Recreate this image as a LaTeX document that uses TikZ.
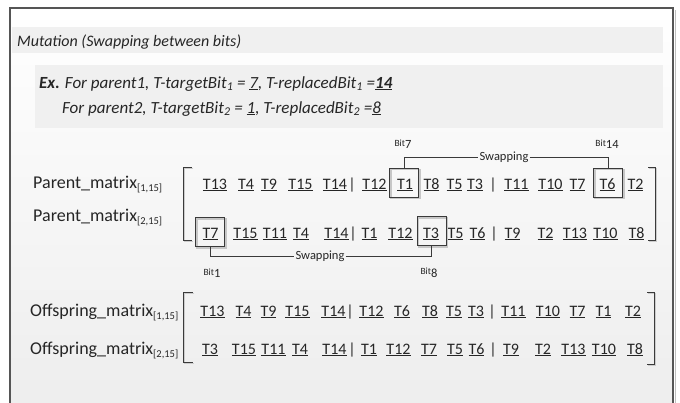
\documentclass[tikz,border=0pt]{standalone}
\usepackage{fontspec}
\setmainfont{Carlito}
\definecolor{ink}{HTML}{262626}
\definecolor{band}{HTML}{F0F0F0}
\definecolor{linec}{HTML}{3A3A3A}
\definecolor{framec}{HTML}{555555}
\tikzset{
  tok/.style={inner sep=0pt, anchor=base, text=ink, font=\fontsize{16}{16}\selectfont},
  lbl/.style={inner sep=0pt, anchor=base west, text=ink, font=\fontsize{18}{18}\selectfont},
  boxed/.style={draw=linec, line width=1pt, inner sep=0pt, minimum width=29pt, minimum height=29pt,
    preaction={draw=black!22, line width=1.4pt, transform canvas={shift={(1.3pt,-1.3pt)}}}},
  conn/.style={draw=linec, line width=0.9pt},
  brk/.style={draw=linec, line width=1pt,
    preaction={draw=black!20, line width=1.4pt, transform canvas={shift={(1.3pt,-1.3pt)}}}},
  swp/.style={inner sep=1pt, text=ink, font=\fontsize{12.5}{12.5}\selectfont},
  bitl/.style={inner sep=0pt, text=ink},
  extxt/.style={inner sep=0pt, anchor=base west, text=ink, font=\fontsize{17}{17}\selectfont\itshape},
}
\newcommand{\bitlab}[1]{{\fontsize{9.5}{9.5}\selectfont Bit}\raisebox{-2.5pt}{\fontsize{12.5}{12.5}\selectfont #1}}
\newcommand{\msub}[1]{\raisebox{-3pt}{\fontsize{10.5}{10.5}\selectfont #1}}
\begin{document}
\begin{tikzpicture}[x=1pt,y=-1pt]
\useasboundingbox (0,0) rectangle (680,402);
% background and frame
\shade[top color=white, bottom color=black!7] (10,8) rectangle (673,410);
\draw[draw=black!25, line width=1.2pt] (675.5,10) -- (675.5,410);
\draw[draw=framec, line width=1.3pt] (10,410) -- (10,8) -- (673,8) -- (673,410);
% title band
\fill[band] (12,27) rectangle (663,53);
\node[inner sep=0pt, anchor=base west, text=ink, font=\fontsize{16}{16}\selectfont\itshape] (title) at (17,46) {Mutation (Swapping between bits)};
% example box
\fill[band] (35,65) rectangle (663,128);
\node[extxt] (ex1) at (39,88) {{\bfseries Ex.} For parent1, T-targetBit\textsubscript{1} = \underline{7}, T-replacedBit\textsubscript{1} =\underline{\bfseries 14}};
\node[extxt] (ex2) at (62,113) {For parent2, T-targetBit\textsubscript{2} = \underline{1}, T-replacedBit\textsubscript{2} =\underline{8}};
% labels
\node[lbl] (lp1) at (33,188) {Parent\_matrix\msub{[1,15]}};
\node[lbl] (lp2) at (33,221) {Parent\_matrix\msub{[2,15]}};
\node[lbl] (lo1) at (30,316) {Offspring\_matrix\msub{[1,15]}};
\node[lbl] (lo2) at (30,354) {Offspring\_matrix\msub{[2,15]}};
% parent row 1
\foreach \nm/\x/\t in {pa1/215/T13, pa2/246/T4, pa3/269/T9, pa4/300.5/T15, pa5/335/T14,
  pa6/374.5/T12, pa7/405/T1, pa8/431.5/T8, pa9/454.5/T5, pa10/475/T3,
  pa11/516.5/T11, pa12/550.5/T10, pa13/577.5/T7, pa14/607.5/T6, pa15/635.5/T2}
  \node[tok] (\nm) at (\x,189) {\underline{\t}};
\node[tok] (pas1) at (352,189) {|};
\node[tok] (pas2) at (493,189) {|};
% parent row 2
\foreach \nm/\x/\t in {pb1/210.5/T7, pb2/245.5/T15, pb3/275/T11, pb4/301/T4, pb5/336.5/T14,
  pb6/369.5/T1, pb7/400.5/T12, pb8/431/T3, pb9/455.5/T5, pb10/477.5/T6,
  pb11/512.5/T9, pb12/545.5/T2, pb13/575/T13, pb14/605.5/T10, pb15/636.5/T8}
  \node[tok] (\nm) at (\x,238) {\underline{\t}};
\node[tok] (pbs1) at (353,238) {|};
\node[tok] (pbs2) at (494,238) {|};
% offspring row 1
\foreach \nm/\x/\t in {oa1/212.5/T13, oa2/243.5/T4, oa3/268.5/T9, oa4/297.5/T15, oa5/333.5/T14,
  oa6/371.5/T12, oa7/402/T6, oa8/430/T8, oa9/454/T5, oa10/476/T3,
  oa11/513.5/T11, oa12/548/T10, oa13/577.5/T7, oa14/603.5/T1, oa15/633/T2}
  \node[tok] (\nm) at (\x,316) {\underline{\t}};
\node[tok] (oas1) at (350,316) {|};
\node[tok] (oas2) at (492,316) {|};
% offspring row 2
\foreach \nm/\x/\t in {ob1/210/T3, ob2/244/T15, ob3/273.5/T11, ob4/300/T4, ob5/334.5/T14,
  ob6/369/T1, ob7/398.5/T12, ob8/429/T7, ob9/455/T5, ob10/476.5/T6,
  ob11/511/T9, ob12/543/T2, ob13/573.5/T13, ob14/604/T10, ob15/635/T8}
  \node[tok] (\nm) at (\x,354) {\underline{\t}};
\node[tok] (obs1) at (352,354) {|};
\node[tok] (obs2) at (493,354) {|};
% boxes
\node[boxed] (bx7) at (404,182.5) {};
\node[boxed] (bx14) at (608,182.5) {};
\node[boxed] (bx1) at (210,232) {};
\node[boxed] (bx8) at (431.5,231) {};
% bit labels
\node[bitl] (bit7) at (403,144) {\bitlab{7}};
\node[bitl] (bit14) at (607,144) {\bitlab{14}};
\node[bitl] (bit1) at (212,273) {\bitlab{1}};
\node[bitl] (bit8) at (429,273) {\bitlab{8}};
% swapping connectors
\node[swp] (swtop) at (504,157) {Swapping};
\node[swp] (swbot) at (320,256) {Swapping};
\draw[conn] (bx7.north) |- (swtop.west);
\draw[conn] (swtop.east) -| (bx14.north);
\draw[conn] (bx1.south) |- (swbot.west);
\draw[conn] (swbot.east) -| (bx8.south);
% brackets
\coordinate (pl1) at (192,167); \coordinate (pl2) at (183,167);
\coordinate (pl3) at (183,240); \coordinate (pl4) at (192,240);
\draw[brk] (pl1) -- (pl2) -- (pl3) -- (pl4);
\coordinate (pr1) at (648,167); \coordinate (pr2) at (655,167);
\coordinate (pr3) at (655,240); \coordinate (pr4) at (648,240);
\draw[brk] (pr1) -- (pr2) -- (pr3) -- (pr4);
\coordinate (ol1) at (193,292); \coordinate (ol2) at (183,292);
\coordinate (ol3) at (183,362); \coordinate (ol4) at (193,362);
\draw[brk] (ol1) -- (ol2) -- (ol3) -- (ol4);
\coordinate (or1) at (647,292); \coordinate (or2) at (654,292);
\coordinate (or3) at (654,364); \coordinate (or4) at (647,364);
\draw[brk] (or1) -- (or2) -- (or3) -- (or4);
\end{tikzpicture}
\end{document}
